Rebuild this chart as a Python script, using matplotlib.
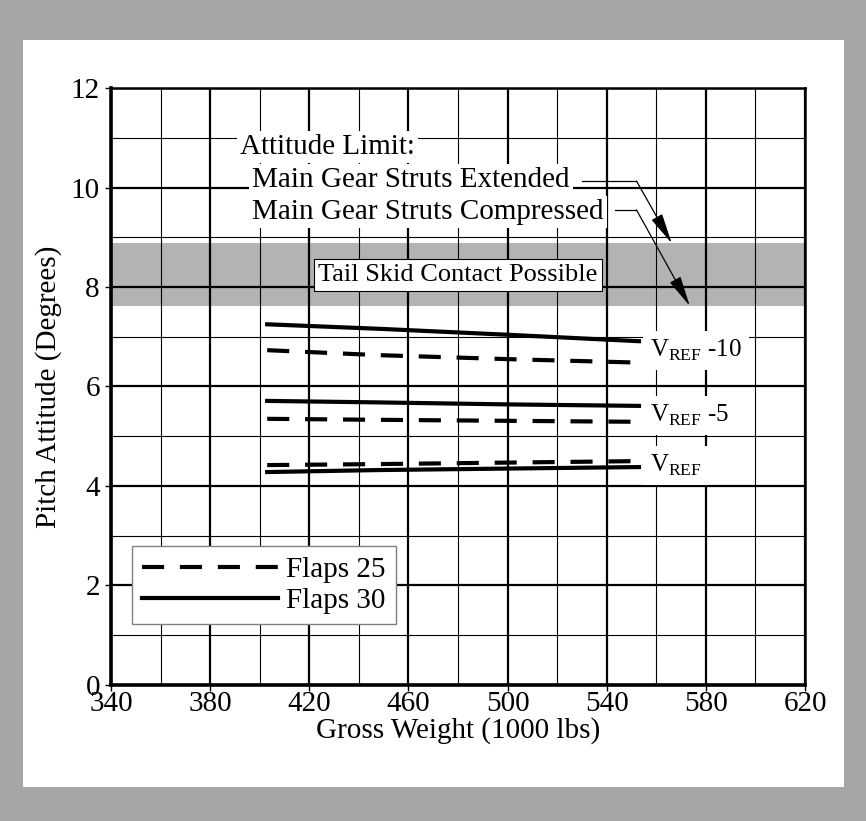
"""Pitch attitude at touchdown vs gross weight, flaps 25 / flaps 30."""

import matplotlib
matplotlib.use("Agg")
from matplotlib import pyplot as plt
from matplotlib.patches import Rectangle
import matplotlib.ticker as tck

plt.rcParams['font.family'] = ['Liberation Serif', 'DejaVu Serif']
plt.rcParams['mathtext.fontset'] = 'custom'
plt.rcParams['mathtext.rm'] = 'Liberation Serif'
plt.rcParams['font.size'] = 21

# Gross weight (1000 lbs)
weights = [403, 448, 500, 553]

# Pitch attitude (degrees)
f30_vref10 = [7.25, 7.16, 7.04, 6.91]
f25_vref10 = [6.73, 6.63, 6.55, 6.48]
f30_vref5 = [5.71, 5.68, 5.64, 5.61]
f25_vref5 = [5.35, 5.33, 5.31, 5.29]
f25_vref = [4.42, 4.44, 4.47, 4.50]
f30_vref = [4.28, 4.32, 4.35, 4.38]

# tail skid contact band
band_low, band_high = 7.62, 8.88

x_major = list(range(340, 621, 40))
x_minor = list(range(360, 620, 40))

speed_labels = [r'V$_{\mathrm{REF}}$ -10', r'V$_{\mathrm{REF}}$ -5', r'V$_{\mathrm{REF}}$']
speed_label_y = [6.59, 5.29, 4.28]

fig = plt.figure(figsize=(8.66, 8.21), dpi=100, facecolor='#a6a6a6')
fig.patches.append(Rectangle((0.0266, 0.0414), 0.948, 0.9099, transform=fig.transFigure,
                             facecolor='white', edgecolor='none', zorder=-5))
ax = fig.add_axes([0.1282, 0.1657, 0.8014, 0.7271])

ax.set_xlim(340, 620)
ax.set_ylim(0, 12)
ax.xaxis.set_major_locator(tck.FixedLocator(x_major))
ax.xaxis.set_minor_locator(tck.FixedLocator(x_minor))
ax.yaxis.set_major_locator(tck.MultipleLocator(2))
ax.yaxis.set_minor_locator(tck.MultipleLocator(1))
ax.grid(which='major', color='black', lw=1.6, zorder=1)
ax.grid(which='minor', color='black', lw=0.8, zorder=1)
ax.set_axisbelow(True)
ax.tick_params(which='major', direction='out', length=4, width=1, labelsize=21)
ax.tick_params(axis='x', pad=0.5)
ax.tick_params(axis='y', pad=4)
ax.tick_params(which='minor', length=0)
for side in ['top', 'right']:
    ax.spines[side].set_linewidth(1.8)
for side in ['left', 'bottom']:
    ax.spines[side].set_linewidth(2.6)

ax.axhspan(band_low, band_high, color='#b3b3b3', zorder=0.5, lw=0)

dash = (0, (5.3, 3.8))
ax.plot(weights, f25_vref10, color='black', lw=3, ls=dash, zorder=3, label='Flaps 25')
ax.plot(weights, f30_vref10, color='black', lw=3, zorder=3, label='Flaps 30')
ax.plot(weights, f25_vref5, color='black', lw=3, ls=dash, zorder=3)
ax.plot(weights, f30_vref5, color='black', lw=3, zorder=3)
ax.plot(weights, f25_vref, color='black', lw=3, ls=dash, zorder=3)
ax.plot(weights, f30_vref, color='black', lw=3, zorder=3)

for lab, yy in zip(speed_labels, speed_label_y):
    ax.text(557.4, yy, lab, ha='left', va='baseline', fontsize=18, zorder=4,
            bbox=dict(facecolor='white', edgecolor='none', pad=5))

ax.text(480, 8.24, 'Tail Skid Contact Possible', ha='center', va='center', fontsize=19,
        zorder=4, bbox=dict(facecolor='white', edgecolor='black', lw=0.8, pad=3.5))

white = dict(facecolor='white', edgecolor='none', pad=2)
ax.text(392, 10.81, 'Attitude Limit:', ha='left', va='center', zorder=4, bbox=white)
ax.text(397, 10.15, 'Main Gear Struts Extended', ha='left', va='center', zorder=4, bbox=white)
ax.text(397, 9.51, 'Main Gear Struts Compressed', ha='left', va='center', zorder=4, bbox=white)

# leader lines
ax.plot([530, 552], [10.13, 10.13], color='black', lw=0.9, zorder=5)
ax.plot([543.5, 552], [9.55, 9.55], color='black', lw=0.9, zorder=5)
arrow = dict(arrowstyle='-|>,head_length=0.9,head_width=0.18', color='black', lw=0.9,
             shrinkA=0, shrinkB=0)
ax.annotate('', xy=(566.2, band_high), xytext=(552, 10.13), arrowprops=arrow, zorder=5)
ax.annotate('', xy=(573.5, band_low), xytext=(552, 9.55), arrowprops=arrow, zorder=5)

leg = ax.legend(loc='lower left', bbox_to_anchor=(0.030, 0.102), borderaxespad=0,
                fancybox=False, framealpha=1, edgecolor='#808080', fontsize=21,
                handlelength=4.65, handletextpad=0.3, labelspacing=0.15, borderpad=0.35)
leg.get_frame().set_linewidth(1.0)
leg.set_zorder(6)

ax.set_xlabel('Gross Weight (1000 lbs)', fontsize=21, labelpad=0)
ax.set_ylabel('Pitch Attitude (Degrees)', fontsize=21, labelpad=6)

fig.savefig('out.png', dpi=100, facecolor=fig.get_facecolor())
